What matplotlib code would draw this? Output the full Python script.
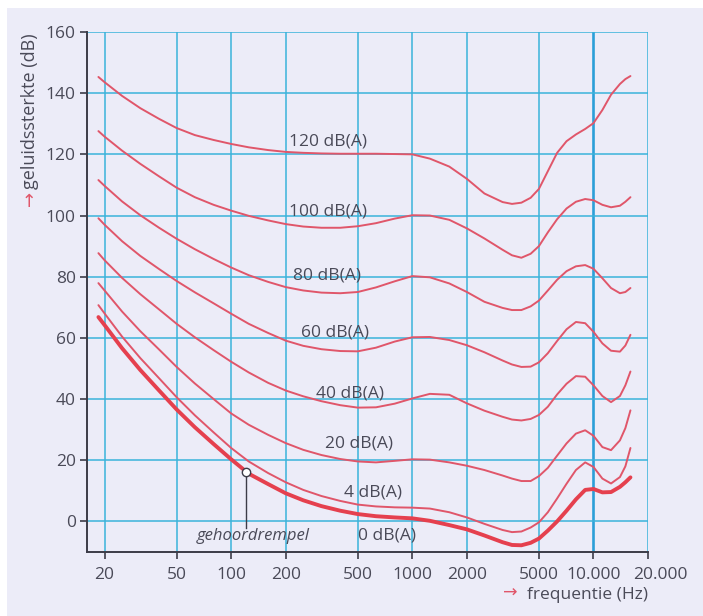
import matplotlib
matplotlib.use("Agg")
import matplotlib.pyplot as plt
from matplotlib.patches import Rectangle
from matplotlib.transforms import ScaledTranslation

plt.rcParams['font.family'] = ['Open Sans', 'DejaVu Sans']

# Frequencies (Hz) at which each equal-loudness curve is tabulated
freqs = [18.5, 20, 25, 31.5, 40, 50, 63, 80, 100, 125, 160, 200, 250, 315, 400, 500,
         630, 800, 1000, 1250, 1600, 2000, 2500, 3150, 3550, 4000, 4500, 5000, 5600,
         6300, 7100, 8000, 9000, 10000, 11200, 12500, 14000, 15000, 16000]

curve_120 = [145.3, 143.6, 139.1, 135.1, 131.6, 128.6, 126.3, 124.7, 123.4, 122.3, 121.4, 120.8,
             120.5, 120.3, 120.2, 120.2, 120.2, 120.1, 120,
             118.6, 116, 112, 107.2, 104.4, 103.8, 104.2, 105.8, 108.7, 114.5,
             120.5, 124.3, 126.5, 128.3, 130.2, 134.5, 139.5, 143, 144.6, 145.6]
curve_100 = [127.6, 125.8, 121.2, 116.9, 112.8, 109.1, 106, 103.5, 101.6, 99.9, 98.4, 97.2,
             96.4, 96, 96, 96.5, 97.5, 99, 100.1,
             100, 98.6, 95.8, 92.5, 88.8, 87, 86.2, 87.5, 90, 94.5,
             98.8, 102.3, 104.5, 105.4, 105, 103.5, 102.7, 103.2, 104.5, 106]
curve_80 = [111.6, 109.7, 104.6, 100.1, 96, 92.4, 89, 85.8, 83, 80.5, 78.3, 76.6,
            75.5, 74.8, 74.6, 75, 76.5, 78.5, 80.2,
            79.8, 77.8, 75, 71.8, 69.8, 69.1, 69.1, 70.3, 72.2, 75.5,
            79, 81.8, 83.4, 83.8, 82.6, 79.5, 76.3, 74.6, 75, 76.3]
curve_60 = [99.1, 97, 91.6, 86.8, 82.5, 78.6, 74.9, 71.3, 67.9, 64.6, 61.6, 59.1,
            57.4, 56.3, 55.7, 55.6, 56.8, 58.8, 60.2,
            60.3, 59.3, 57.6, 55.3, 52.6, 51.3, 50.5, 50.6, 52, 55,
            59, 62.8, 65.2, 64.8, 62, 58.2, 55.8, 55.5, 57.5, 61]
curve_40 = [87.7, 85.4, 79.6, 74.3, 69.3, 64.6, 60.2, 56, 52.2, 48.7, 45.3, 42.8,
            40.9, 39.3, 38, 37.2, 37.3, 38.5, 40.2,
            41.7, 41.4, 38.6, 36.2, 34.2, 33.3, 33, 33.5, 34.8, 37.5,
            41.5, 45, 47.5, 47.3, 44.5, 41, 39, 41, 44.5, 49]
curve_20 = [77.9, 75.5, 68.6, 62.2, 56.2, 50.5, 45.1, 40, 35.3, 31.6, 28.3, 25.6,
            23.4, 21.7, 20.4, 19.6, 19.3, 19.8, 20.3,
            20.2, 19.3, 18.2, 16.8, 15, 14, 13.2, 13.2, 14.8, 17.5,
            21.5, 25.5, 28.7, 29.8, 28, 24.3, 23.3, 26.5, 30.5, 36.3]
curve_4 = [70.7, 68, 60.4, 53.4, 46.8, 40.6, 34.7, 29.1, 24, 19.6, 15.8, 12.8,
           10.3, 8.3, 6.7, 5.5, 4.9, 4.6, 4.5,
           4.2, 3, 1.3, -0.8, -2.8, -3.5, -3.3, -2, -0.3, 3,
           7.5, 12.3, 16.8, 19.3, 17.8, 14, 12.4, 14.5, 18, 24]
threshold = [66.8, 64.2, 56.6, 49.5, 42.8, 36.6, 30.8, 25.3, 20.3, 15.6, 12.2, 9.2,
             6.9, 5, 3.5, 2.4, 1.7, 1.3, 1,
             0.2, -1.2, -2.6, -4.6, -6.8, -7.7, -7.8, -7, -5.6, -3,
             0, 3.5, 7.2, 10.3, 10.6, 9.5, 9.6, 11.3, 12.8, 14.4]

thin_curves = [curve_120, curve_100, curve_80, curve_60, curve_40, curve_20, curve_4]

# Curve labels: text, frequency, level
label_texts = ["120 dB(A)", "100 dB(A)", "80 dB(A)", "60 dB(A)", "40 dB(A)",
               "20 dB(A)", "4 dB(A)", "0 dB(A)"]
label_freqs = [341, 341, 336, 374, 452, 510, 604, 725]
label_levels = [124.3, 101.4, 80.5, 61.9, 41.9, 25.5, 9.5, -4.6]

xtick_vals = [20, 50, 100, 200, 500, 1000, 2000, 5000, 10000, 20000]
xtick_labels = ["20", "50", "100", "200", "500", "1000", "2000", "5000", "10.000", "20.000"]
ytick_vals = [0, 20, 40, 60, 80, 100, 120, 140, 160]

marker_freq = 120
marker_level = 16.3

BG = "#ECECF8"
GRID = "#3AB3DB"
TEXT = "#4A4A58"
CURVE = "#E0566A"
THRESH = "#E5404E"
AXIS = "#3C3C48"

fig = plt.figure(figsize=(7.03, 6.16), dpi=100)
fig.patch.set_facecolor("white")
fig.patches.append(Rectangle((7 / 703, 0), 1, 1 - 8 / 616, transform=fig.transFigure,
                             facecolor=BG, edgecolor="none", zorder=-10))

ax = fig.add_axes([87 / 703, 1 - 552 / 616, (648 - 87) / 703, (552 - 32) / 616])
ax.set_facecolor(BG)
ax.set_xscale("log")
ax.set_xlim(16, 20000)
ax.set_ylim(-10, 160)

ax.set_xticks(xtick_vals)
ax.set_xticklabels(xtick_labels)
ax.xaxis.set_minor_locator(matplotlib.ticker.NullLocator())
ax.set_yticks(ytick_vals)

ax.grid(True, color=GRID, linewidth=1.1, zorder=1)
ax.set_axisbelow(True)
for val, gl in zip(xtick_vals, ax.get_xgridlines()):
    if val == 10000:
        gl.set_linewidth(1.9)
        gl.set_color("#2C9FD8")

for side in ("top", "right"):
    ax.spines[side].set_visible(False)
for side in ("left", "bottom"):
    ax.spines[side].set_color(AXIS)
    ax.spines[side].set_linewidth(1.4)

ax.tick_params(axis="both", colors=AXIS, labelcolor=TEXT, labelsize=12.5,
               length=5, width=1.2, direction="out")
ax.tick_params(axis="x", pad=6)
ax.tick_params(axis="y", pad=3)

# The last frequency label sits a little to the right of its tick
last_label = ax.get_xticklabels()[-1]
last_label.set_transform(last_label.get_transform() +
                         ScaledTranslation(12 / 100, 0, fig.dpi_scale_trans))

for ys in thin_curves:
    ax.plot(freqs, ys, color=CURVE, linewidth=1.4, solid_joinstyle="round",
            solid_capstyle="round", zorder=3)
ax.plot(freqs, threshold, color=THRESH, linewidth=2.8, solid_joinstyle="round",
        solid_capstyle="round", zorder=4)

for txt, fx, lv in zip(label_texts, label_freqs, label_levels):
    ax.text(fx, lv, txt, color=TEXT, fontsize=12.5, ha="center", va="center", zorder=5)

# Hearing threshold annotation
ax.plot([marker_freq, marker_freq], [marker_level, -2], color=AXIS, linewidth=1.0, zorder=5)
ax.plot([marker_freq], [marker_level], marker="o", markersize=6, markerfacecolor="white",
        markeredgecolor=AXIS, markeredgewidth=1.0, zorder=6)
ax.text(133, -4.8, "gehoordrempel", color=TEXT, fontsize=12, style="italic",
        ha="center", va="center", zorder=5)

# Axis titles with red arrows
fig.text(30 / 703, 1 - 189 / 616, "geluidssterkte (dB)", rotation=90, color=TEXT,
         fontsize=13, ha="center", va="bottom")
fig.text(30 / 703, 1 - 191 / 616, "→", rotation=90, color=CURVE,
         fontsize=13, ha="center", va="top")
fig.text(648 / 703, 1 - 595 / 616, "frequentie (Hz)", color=TEXT,
         fontsize=12.5, ha="right", va="center")
fig.text(517 / 703, 1 - 594 / 616, "→", color=CURVE,
         fontsize=12.5, ha="right", va="center")

fig.savefig("out.png", dpi=100, facecolor=fig.get_facecolor())
